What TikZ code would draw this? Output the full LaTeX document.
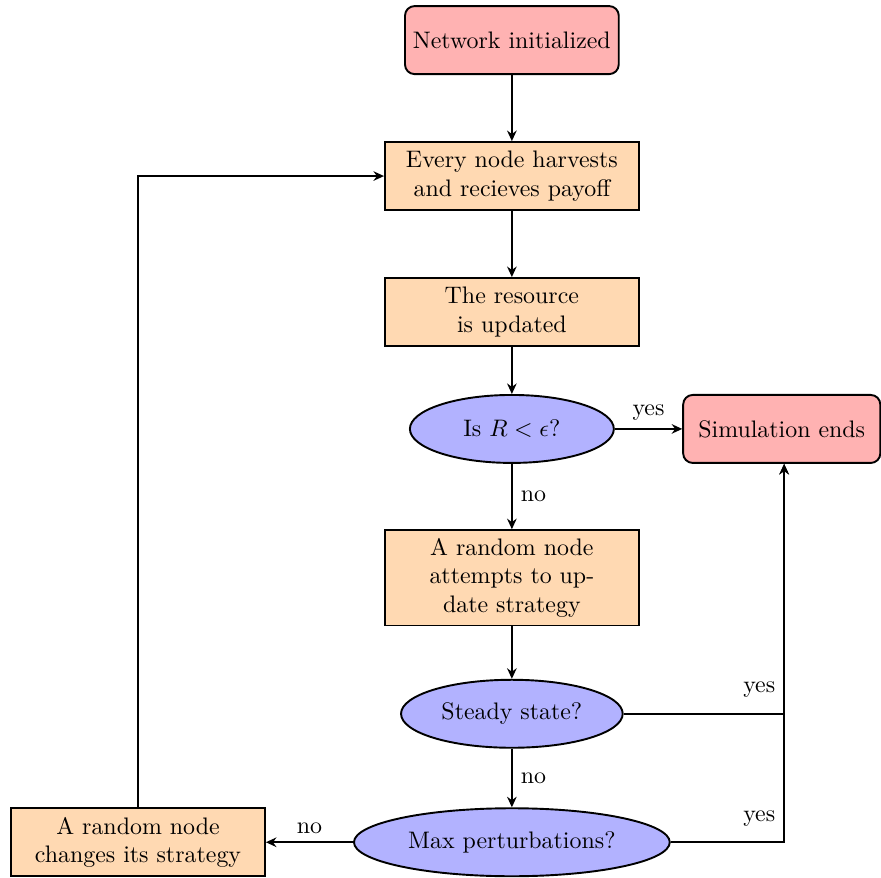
\documentclass[tikz,border=0pt]{standalone}
\usetikzlibrary{shapes.geometric,arrows.meta}

\tikzset{
    startstop/.style={rectangle, rounded corners, draw, thick, fill=red!30, minimum width=2.9cm, minimum height=1cm, align=center},
    process/.style={rectangle, draw, thick, fill=orange!30, text width=3.5cm, text centered, minimum height=1cm},
    decision/.style={ellipse, draw, thick, fill=blue!30, minimum width=3cm, minimum height=1cm},
}

\begin{document}
\begin{tikzpicture}[>={Stealth[length=4.4pt, width=4pt]}]
    \useasboundingbox (-7.53, 0.59) rectangle (5.43, -12.32);
    % Nodes
    \node[startstop] (init) at (0, 0) {Network initialized};
    \node[process] (harvest) at (0, -2) {Every node harvests and recieves payoff};
    \node[process] (update) at (0, -4) {The resource is updated};
    \node[decision] (check) at (0, -5.72) {Is $R < \epsilon$?};
    \node[startstop] (ends) at (3.97, -5.72) {Simulation ends};
    \node[process] (attempt) at (0, -7.91) {A random node attempts to update strategy};
    \node[decision] (steady) at (0, -9.91) {Steady state?};
    \node[decision] (maxpert) at (0, -11.8) {Max perturbations?};
    \node[process] (change) at (-5.5, -11.8) {A random node changes its strategy};
    % Edges
    \draw[->, thick] (init) -- (harvest);
    \draw[->, thick] (harvest) -- (update);
    \draw[->, thick] (update) -- (check);
    \draw[->, thick] (check) -- node[above] {yes} (ends);
    \draw[->, thick] (check) -- node[right] {no} (attempt);
    \draw[->, thick] (attempt) -- (steady);
    \draw[->, thick] (steady) -- node[right] {no} (maxpert);
    \draw[->, thick] (steady) -| node[above left, yshift=3pt] {yes} ([xshift=1pt]ends.south);
    \draw[->, thick] (maxpert) -| node[above left, yshift=3pt] {yes} ([xshift=1pt]ends.south);
    \draw[->, thick] (maxpert) -- node[above] {no} (change);
    \draw[->, thick] (change) |- (harvest);
\end{tikzpicture}
\end{document}
